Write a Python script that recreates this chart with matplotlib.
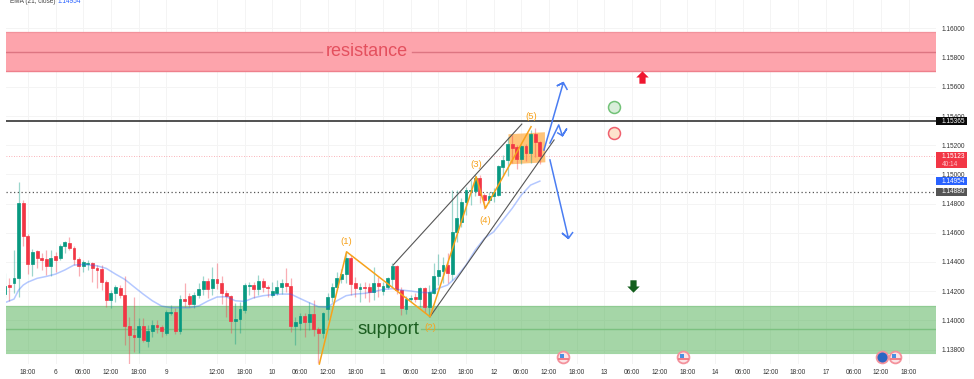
import matplotlib
matplotlib.use("Agg")
import matplotlib.pyplot as plt
from matplotlib.patches import Rectangle

plt.rcParams['font.family'] = ['Liberation Sans', 'DejaVu Sans']

# hourly candles
opens = [1.14180, 1.14240, 1.14253, 1.14292, 1.14802, 1.14578, 1.14386, 1.14475, 1.14427, 1.14418,
         1.14372, 1.14441, 1.14425, 1.14509, 1.14532, 1.14498, 1.14420, 1.14372, 1.14386, 1.14390,
         1.14361, 1.14352, 1.14265, 1.14139, 1.14189, 1.14224, 1.14176, 1.13961, 1.13899, 1.13883,
         1.13963, 1.13860, 1.13924, 1.13968, 1.13954, 1.13915, 1.14052, 1.14059, 1.13924, 1.14144,
         1.14169, 1.14112, 1.14173, 1.14212, 1.14269, 1.14219, 1.14281, 1.14256, 1.14189, 1.14169,
         1.13997, 1.14009, 1.14071, 1.14237, 1.14240, 1.14217, 1.14272, 1.14226, 1.14176, 1.14185,
         1.14226, 1.14258, 1.14237, 1.13961, 1.13979, 1.14029, 1.13988, 1.14043, 1.13940, 1.13915,
         1.14080, 1.14162, 1.14226, 1.14285, 1.14317, 1.14425, 1.14256, 1.14217, 1.14230, 1.14226,
         1.14194, 1.14253, 1.14203, 1.14226, 1.14281, 1.14372, 1.14208, 1.14080, 1.14146, 1.14162,
         1.14148, 1.14221, 1.14089, 1.14189, 1.14304, 1.14340, 1.14381, 1.14317, 1.14603, 1.14671,
         1.14813, 1.14889, 1.14889, 1.14973, 1.14859, 1.14824, 1.14852, 1.14859, 1.15053, 1.15099,
         1.15208, 1.15185, 1.15105, 1.15194, 1.15144, 1.15277, 1.15220]
highs = [1.14322, 1.14288, 1.14482, 1.14950, 1.14824, 1.14591, 1.14486, 1.14482, 1.14459, 1.14482,
         1.14482, 1.14470, 1.14523, 1.14546, 1.14573, 1.14509, 1.14436, 1.14413, 1.14413, 1.14402,
         1.14379, 1.14379, 1.14276, 1.14208, 1.14242, 1.14242, 1.14304, 1.14025, 1.14162, 1.14013,
         1.14013, 1.13968, 1.14002, 1.14002, 1.13968, 1.14071, 1.14105, 1.14082, 1.14173, 1.14253,
         1.14185, 1.14196, 1.14253, 1.14304, 1.14288, 1.14363, 1.14395, 1.14304, 1.14208, 1.14173,
         1.14116, 1.14128, 1.14253, 1.14265, 1.14265, 1.14310, 1.14288, 1.14242, 1.14265, 1.14276,
         1.14281, 1.14356, 1.14288, 1.14025, 1.14048, 1.14048, 1.14128, 1.14139, 1.13956, 1.14059,
         1.14185, 1.14253, 1.14333, 1.14349, 1.14470, 1.14447, 1.14294, 1.14258, 1.14265, 1.14253,
         1.14363, 1.14299, 1.14265, 1.14299, 1.14390, 1.14379, 1.14230, 1.14166, 1.14173, 1.14185,
         1.14230, 1.14230, 1.14242, 1.14390, 1.14454, 1.14431, 1.14459, 1.14893, 1.14893, 1.14836,
         1.14916, 1.14961, 1.15003, 1.14996, 1.14875, 1.14882, 1.14904, 1.15064, 1.15133, 1.15258,
         1.15270, 1.15201, 1.15201, 1.15208, 1.15304, 1.15316, 1.15231]
lows = [1.14150, 1.14134, 1.14185, 1.14162, 1.14509, 1.14317, 1.14304, 1.14356, 1.14345, 1.14310,
        1.14304, 1.14333, 1.14413, 1.14459, 1.14482, 1.14379, 1.14304, 1.14333, 1.14345, 1.14265,
        1.14219, 1.14208, 1.14089, 1.14082, 1.14128, 1.14150, 1.13831, 1.13700, 1.13785, 1.13778,
        1.13853, 1.13819, 1.13888, 1.13911, 1.13888, 1.13899, 1.14036, 1.13906, 1.13906, 1.14093,
        1.14089, 1.14082, 1.14150, 1.14173, 1.14150, 1.14173, 1.14212, 1.14112, 1.14025, 1.13915,
        1.13837, 1.13911, 1.14048, 1.14173, 1.14150, 1.14173, 1.14196, 1.14162, 1.14162, 1.14173,
        1.14180, 1.14196, 1.13922, 1.13831, 1.13933, 1.13888, 1.13933, 1.13892, 1.13705, 1.13876,
        1.14002, 1.14128, 1.14208, 1.14253, 1.14253, 1.14173, 1.14157, 1.14128, 1.14150, 1.14128,
        1.14139, 1.14162, 1.14173, 1.14212, 1.14226, 1.14180, 1.14036, 1.14043, 1.14128, 1.14128,
        1.14089, 1.14048, 1.14025, 1.14180, 1.14242, 1.14253, 1.14253, 1.14276, 1.14539, 1.14642,
        1.14722, 1.14790, 1.14852, 1.14802, 1.14760, 1.14802, 1.14813, 1.14855, 1.14989, 1.14989,
        1.15076, 1.15035, 1.15071, 1.15094, 1.15080, 1.15117, 1.15071]
closes = [1.14235, 1.14226, 1.14290, 1.14802, 1.14578, 1.14386, 1.14470, 1.14425, 1.14413, 1.14372,
          1.14425, 1.14413, 1.14509, 1.14534, 1.14498, 1.14418, 1.14374, 1.14399, 1.14395, 1.14356,
          1.14347, 1.14265, 1.14139, 1.14189, 1.14226, 1.14173, 1.13961, 1.13897, 1.13888, 1.13961,
          1.13865, 1.13927, 1.13968, 1.13954, 1.13927, 1.14059, 1.14059, 1.13929, 1.14144, 1.14134,
          1.14112, 1.14176, 1.14214, 1.14269, 1.14217, 1.14281, 1.14258, 1.14189, 1.14166, 1.13997,
          1.14011, 1.14075, 1.14240, 1.14244, 1.14217, 1.14272, 1.14226, 1.14221, 1.14203, 1.14230,
          1.14258, 1.14237, 1.13961, 1.13986, 1.14029, 1.13988, 1.14043, 1.13940, 1.13915, 1.14052,
          1.14162, 1.14230, 1.14292, 1.14317, 1.14425, 1.14249, 1.14224, 1.14230, 1.14224, 1.14194,
          1.14258, 1.14235, 1.14237, 1.14288, 1.14372, 1.14208, 1.14082, 1.14146, 1.14155, 1.14148,
          1.14221, 1.14093, 1.14192, 1.14306, 1.14345, 1.14381, 1.14322, 1.14603, 1.14699, 1.14813,
          1.14893, 1.14893, 1.14973, 1.14859, 1.14824, 1.14852, 1.14877, 1.15057, 1.15099, 1.15208,
          1.15181, 1.15105, 1.15194, 1.15144, 1.15277, 1.15220, 1.15123]

ema_bars = [0, 2, 3, 4, 5, 7, 9, 11, 13, 15, 17, 20, 22, 24, 26, 28, 30, 32, 34, 36, 38, 40, 42, 44, 46, 48,
            50, 52, 54, 56, 58, 60, 62, 64, 66, 68, 70, 72, 74, 76, 78, 80, 82, 84, 86, 88, 90, 92, 94, 96,
            98, 100, 102, 104, 106, 108, 110, 112, 114, 116]
ema_vals = [1.14121, 1.14146, 1.14208, 1.14242, 1.14262, 1.14288, 1.14301, 1.14317, 1.14345, 1.14379,
            1.14383, 1.14374, 1.14356, 1.14317, 1.14281, 1.14230, 1.14180, 1.14134, 1.14098, 1.14087,
            1.14087, 1.14087, 1.14098, 1.14132, 1.14160, 1.14162, 1.14134, 1.14130, 1.14155, 1.14169,
            1.14176, 1.14180, 1.14180, 1.14150, 1.14121, 1.14093, 1.14091, 1.14134, 1.14169, 1.14180,
            1.14185, 1.14196, 1.14212, 1.14217, 1.14208, 1.14201, 1.14192, 1.14189, 1.14219, 1.14242,
            1.14299, 1.14379, 1.14482, 1.14562, 1.14607, 1.14687, 1.14767, 1.14859, 1.14927, 1.14954]

time_ticks = [5, 11, 17, 23, 29, 35, 46, 52, 58, 64, 70, 76, 82, 88, 94, 100, 106, 112, 118, 124, 130, 136,
              142, 148, 154, 160, 166, 172, 178, 184, 190, 196]
time_labels = ['18:00', '6', '06:00', '12:00', '18:00', '9', '12:00', '18:00', '10', '06:00', '12:00', '18:00',
               '11', '06:00', '12:00', '18:00', '12', '06:00', '12:00', '18:00', '13', '06:00', '12:00', '18:00',
               '14', '06:00', '12:00', '18:00', '17', '06:00', '12:00', '18:00']
price_ticks = [1.16, 1.158, 1.156, 1.154, 1.152, 1.15, 1.148, 1.146, 1.144, 1.142, 1.14, 1.138]

# hand drawn stuff on the chart
wave_bars = [68.2, 74.1, 92.2, 102.2, 104.2, 114.1]
wave_prices = [1.13701, 1.14470, 1.14025, 1.14984, 1.14768, 1.15327]
wave_names = ['(1)', '(2)', '(3)', '(4)', '(5)']
wave_name_bars = [74.1, 92.2, 102.2, 104.2, 114.1]
wave_name_prices = [1.14537, 1.13948, 1.15070, 1.14685, 1.15400]
upper_bars, upper_prices = [84.2, 112.1], [1.14379, 1.15345]
lower_bars, lower_prices = [92.2, 119.1], [1.14025, 1.15236]
box_bars = [109.2, 117.1, 117.2, 109.5]
box_prices = [1.15275, 1.15289, 1.15083, 1.15069]
arrow_up_bars = [116.9, 121.1, 119.8, 121.1, 121.9]
arrow_up_prices = [1.15167, 1.15629, 1.15608, 1.15629, 1.15583]
arrow_mid_bars = [118.2, 120.1, 120.9, 121.8, 120.9, 119.9]
arrow_mid_prices = [1.15215, 1.15339, 1.15265, 1.15311, 1.15265, 1.15284]
arrow_down_bars = [118.2, 122.2, 120.9, 122.2, 123.1]
arrow_down_prices = [1.15099, 1.14562, 1.14596, 1.14562, 1.14601]
flag_bars = [121.1, 147.1, 193.1]
flag_price = 1.13749

GREEN = '#089981'
RED = '#f23645'
BLUE = '#4a7df2'
ORANGE = '#f7a21b'

fig = plt.figure(figsize=(9.74, 3.79), dpi=100)
ax = fig.add_axes([5.5 / 974, 1 - 364 / 379, 930.5 / 974, 364 / 379])
ax.set_xlim(0.15, 201.9)
ax.set_ylim(1.13701, 1.16195)
for s in ax.spines.values():
    s.set_visible(False)

ax.set_xticks(time_ticks)
ax.set_xticklabels(time_labels)
ax.yaxis.tick_right()
ax.set_yticks(price_ticks)
ax.set_yticklabels(['%.5f' % p for p in price_ticks])
ax.tick_params(axis='x', length=0, labelsize=4.7, labelcolor='#333333', pad=3.5)
ax.tick_params(axis='y', length=0, labelsize=4.7, labelcolor='#333333', pad=3.8)
ax.grid(True, color='#f4f4f4', lw=0.7)
ax.set_axisbelow(True)

# zones
ax.axhspan(1.15711, 1.15976, facecolor='#fda4ac', edgecolor='none', zorder=1)
ax.axhline(1.15976, color='#f2929c', lw=0.9, zorder=1.2)
ax.axhline(1.15711, color='#ee808c', lw=1.0, zorder=1.2)
ax.plot([0.15, 68.8], [1.15841, 1.15841], color='#dd7582', lw=1.0, zorder=1.2)
ax.plot([88.3, 201.9], [1.15841, 1.15841], color='#dd7582', lw=1.0, zorder=1.2)
ax.text(78.4, 1.15841, 'resistance', color='#e4505e', fontsize=13, ha='center', va='center', zorder=5)

ax.axhspan(1.13778, 1.14100, facecolor='#4caf50', alpha=0.5, edgecolor='none', zorder=1)
ax.axhline(1.14100, color='#8fcb92', lw=0.9, zorder=1.2)
ax.axhline(1.13778, color='#a2d6a4', lw=0.8, zorder=1.2)
ax.plot([0.15, 75.3], [1.13938, 1.13938], color='#7cc180', lw=1.0, zorder=1.2)
ax.plot([90.3, 201.9], [1.13938, 1.13938], color='#7cc180', lw=1.0, zorder=1.2)
ax.text(83.2, 1.13938, 'support', color='#1b5e20', fontsize=13.4, ha='center', va='center', zorder=5)

# levels
ax.axhline(1.15365, color='#333333', lw=1.2, zorder=2)
ax.axhline(1.14880, color='#555555', lw=0.9, ls=(0, (1, 2)), zorder=2)
ax.axhline(1.15123, color=RED, lw=0.6, ls=(0, (1, 2)), alpha=0.5, zorder=2)

ax.fill(box_bars, box_prices, color='#ffb04d', alpha=0.75, lw=0, zorder=2.5)

# candles
for i in range(len(opens)):
    col = GREEN if closes[i] >= opens[i] else RED
    ax.vlines(i, lows[i], highs[i], color=col, lw=0.9, alpha=0.4, zorder=3)
    ax.bar(i, abs(closes[i] - opens[i]), bottom=min(opens[i], closes[i]), width=0.62, color=col,
           edgecolor=col, lw=0.5, zorder=3.2)

ax.plot(ema_bars, ema_vals, color='#2962ff', alpha=0.35, lw=1.1, zorder=3.5)

# wave and channel
ax.plot(upper_bars, upper_prices, color='#555555', lw=0.8, zorder=4)
ax.plot(lower_bars, lower_prices, color='#555555', lw=0.8, zorder=4)
ax.plot(wave_bars, wave_prices, color=ORANGE, lw=1.1, zorder=4, clip_on=False)
for n, b, p in zip(wave_names, wave_name_bars, wave_name_prices):
    ax.text(b, p, n, color=ORANGE, fontsize=6.8, ha='center', va='center', zorder=5)

ax.plot(arrow_up_bars, arrow_up_prices, color=BLUE, lw=1.1, zorder=4.5)
ax.plot(arrow_mid_bars, arrow_mid_prices, color=BLUE, lw=1.1, zorder=4.5)
ax.plot(arrow_down_bars, arrow_down_prices, color=BLUE, lw=1.1, zorder=4.5)

# markers
ax.plot(132.1, 1.15462, 'o', ms=8.6, mfc='#d9eeda', mec='#72c277', mew=1.1, zorder=5)
ax.plot(132.1, 1.15284, 'o', ms=8.6, mfc='#fde3cc', mec='#f0606e', mew=1.1, zorder=5)
up_arrow = [(0, 1), (1, 0), (0.5, 0), (0.5, -1), (-0.5, -1), (-0.5, 0), (-1, 0)]
down_arrow = [(x, -y) for x, y in up_arrow]
ax.scatter([138.2], [1.15666], marker=up_arrow, s=80, color='#f0162f', lw=0, zorder=5)
ax.scatter([136.1], [1.14235], marker=down_arrow, s=80, color='#135f1d', lw=0, zorder=5)

# event flags
for b in flag_bars:
    ax.plot(b, flag_price, 'o', ms=8.5, mfc='#fbe4e6', mec='#f4929c', mew=1.3, zorder=6, clip_on=False)
    ax.plot([b - 1, b + 1], [flag_price - 0.00012] * 2, color='#ef6b78', lw=1.2, zorder=6.1)
    ax.plot(b - 0.3, flag_price + 0.00010, 's', ms=3, color='#4a90e2', mew=0, zorder=6.2)
ax.plot(190.2, flag_price, 'o', ms=8.5, mfc='#2a66c4', mec='#f4929c', mew=1.3, zorder=6, clip_on=False)

# price badges on the right side
def badge(lo, hi, col):
    ax.add_patch(Rectangle((1.0, lo), 30.5 / 930.5, hi - lo, transform=ax.get_yaxis_transform(),
                           facecolor=col, edgecolor='none', clip_on=False, zorder=7))

def badge_text(price, s, col='white'):
    ax.text(1 + 5.5 / 930.5, price, s, transform=ax.get_yaxis_transform(), color=col, fontsize=4.7,
            va='center', ha='left', zorder=8, clip_on=False)

badge(1.15338, 1.15393, '#0a0a0a')
badge_text(1.15365, '1.15365')
badge(1.15044, 1.15154, RED)
badge_text(1.15123, '1.15123')
badge_text(1.15068, '40:14', '#ffc4ca')
badge(1.14927, 1.14982, '#2962ff')
badge_text(1.14954, '1.14954')
badge(1.14853, 1.14908, '#555555')
badge_text(1.14880, '1.14880')

fig.text(10 / 974, 1 - 1.5 / 379, 'EMA (21, close)', fontsize=4.7, color='#444444', va='center')
fig.text(58 / 974, 1 - 1.5 / 379, '1.14954', fontsize=4.7, color='#2962ff', va='center')

fig.savefig('out.png', dpi=100)
